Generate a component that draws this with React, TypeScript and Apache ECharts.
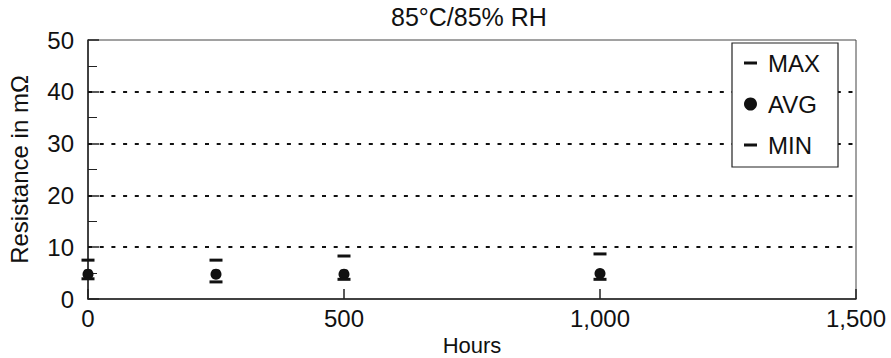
import React, { useEffect, useRef } from "react";
import * as echarts from "echarts";

const hours = [0, 250, 500, 1000];
const maxVals = [7.5, 7.5, 8.3, 8.7];
const avgVals = [4.8, 4.8, 4.8, 4.9];
const minVals = [3.9, 3.3, 3.8, 3.8];
const gridValues = [10, 20, 30, 40];
const seriesNames = ["MAX", "AVG", "MIN"];
const titleText = "85°C/85% RH";
const xName = "Hours";
const yName = "Resistance in mΩ";

const FONT = "'Liberation Sans', Arial, Helvetica, sans-serif";
const DASH = "path://M0,0h13v3h-13z";
const FS = 24;

function pairs(vals: number[]) {
  return hours.map((h, i) => [h, vals[i]]);
}

export default function App() {
  const ref = useRef<HTMLDivElement>(null);
  useEffect(() => {
    if (!ref.current) return;
    const chart = echarts.init(ref.current, undefined, { renderer: "svg" });
    chart.setOption({
      animation: false,
      backgroundColor: "#ffffff",
      textStyle: { fontFamily: FONT },
      title: {
        text: titleText,
        left: 391,
        top: 4,
        padding: 0,
        textStyle: { fontFamily: FONT, fontSize: 25, fontWeight: "normal", color: "#111" },
      },
      grid: {
        left: 88,
        right: 35,
        top: 40,
        bottom: 59,
        outerBoundsMode: "none",
        containLabel: false,
        show: true,
        borderColor: "#444",
        borderWidth: 1,
        backgroundColor: "transparent",
      },
      legend: {
        orient: "vertical",
        left: 732,
        top: 43,
        padding: [8, 18, 10, 12],
        itemWidth: 13,
        itemHeight: 20,
        itemGap: 17,
        borderColor: "#222",
        borderWidth: 1.2,
        backgroundColor: "#fff",
        textStyle: { fontFamily: FONT, fontSize: FS, color: "#111", padding: [0, 0, 0, 6] },
        data: [
          { name: "MAX", icon: DASH },
          { name: "AVG", icon: "circle" },
          { name: "MIN", icon: DASH },
        ],
        itemStyle: { opacity: 1 },
        symbolKeepAspect: true,
      },
      xAxis: {
        type: "value",
        min: 0,
        max: 1500,
        interval: 500,
        name: xName,
        nameLocation: "middle",
        nameGap: 32,
        nameTextStyle: { fontFamily: FONT, fontSize: 22, color: "#111" },
        axisLine: { show: true, lineStyle: { color: "#222", width: 1.5 } },
        axisTick: { show: true, inside: true, length: 10, lineStyle: { color: "#222", width: 1.5 } },
        axisLabel: {
          fontFamily: FONT,
          fontSize: FS,
          color: "#111",
          margin: 7,
          formatter: (v: number) => v.toLocaleString("en-US"),
        },
        splitLine: { show: false },
      },
      yAxis: {
        type: "value",
        min: 0,
        max: 50,
        interval: 10,
        name: yName,
        nameLocation: "middle",
        nameGap: 57,
        nameTextStyle: { fontFamily: FONT, fontSize: FS, color: "#111" },
        axisLine: { show: true, lineStyle: { color: "#222", width: 1.5 } },
        axisTick: { show: true, inside: true, length: 11, lineStyle: { color: "#222", width: 1.5 } },
        minorTick: { show: true, splitNumber: 2, length: 9, lineStyle: { color: "#222", width: 1 } },
        axisLabel: { fontFamily: FONT, fontSize: FS, color: "#111", margin: 14 },
        splitLine: { show: false },
      },
      series: [
        {
          name: seriesNames[0],
          type: "scatter",
          symbol: "rect",
          symbolSize: [13, 3],
          itemStyle: { color: "#111", opacity: 1 },
          data: pairs(maxVals),
          z: 3,
        },
        {
          name: seriesNames[1],
          type: "scatter",
          symbol: "circle",
          symbolSize: 11,
          itemStyle: { color: "#111", opacity: 1 },
          data: pairs(avgVals),
          z: 2,
          markLine: {
            silent: true,
            symbol: "none",
            label: { show: false },
            lineStyle: { color: "#111", width: 2, type: [4, 7.7] },
            data: gridValues.map((v) => ({ yAxis: v })),
            z: 1,
          },
        },
        {
          name: seriesNames[2],
          type: "scatter",
          symbol: "rect",
          symbolSize: [13, 3],
          itemStyle: { color: "#111", opacity: 1 },
          data: pairs(minVals),
          z: 3,
        },
      ],
    });
    return () => chart.dispose();
  }, []);
  return (
    <div
      ref={ref}
      style={{ position: "absolute", left: 0, top: 0, width: 891, height: 358 }}
    />
  );
}
